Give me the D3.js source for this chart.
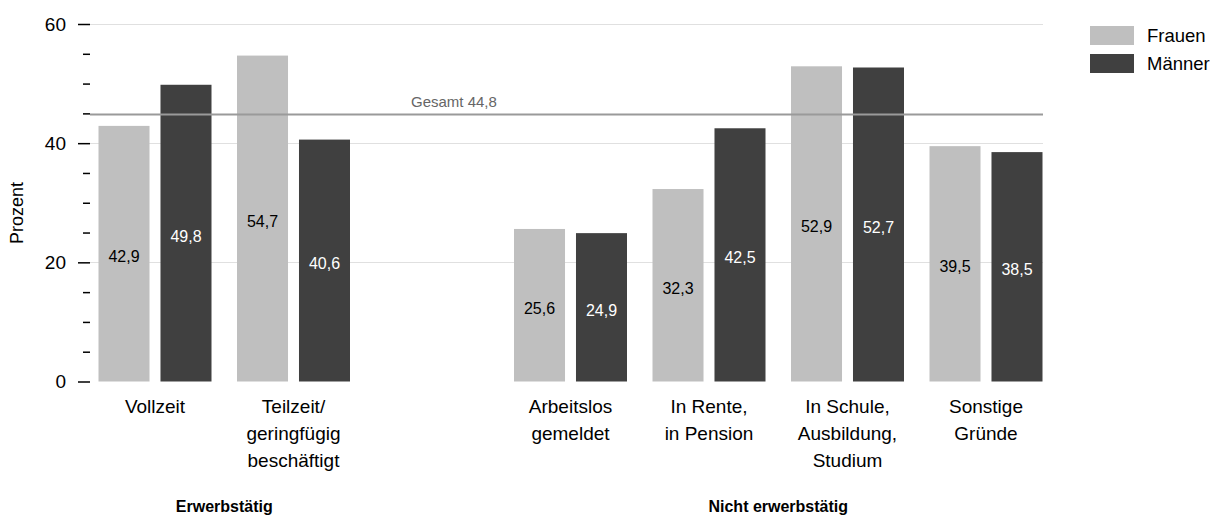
<!DOCTYPE html>
<html>
<head>
<meta charset="utf-8">
<script src="https://cdn.jsdelivr.net/npm/d3@7"></script>
<style>
  body { margin: 0; background: #fff; }
  text { font-family: "Liberation Sans", Arial, sans-serif; }
</style>
</head>
<body>
<svg width="1221" height="518"></svg>
<script>
// categories (empty slot separates the two groups)
var categories = ['Vollzeit', 'Teilzeit', '', 'Arbeitslos', 'Rente', 'Schule', 'Sonstige'];
var catLabels = {
  'Vollzeit': ['Vollzeit'],
  'Teilzeit': ['Teilzeit/', 'geringfügig', 'beschäftigt'],
  'Arbeitslos': ['Arbeitslos', 'gemeldet'],
  'Rente': ['In Rente,', 'in Pension'],
  'Schule': ['In Schule,', 'Ausbildung,', 'Studium'],
  'Sonstige': ['Sonstige', 'Gründe']
};
var series = ['Frauen', 'Männer'];
var frauen = [42.9, 54.7, null, 25.6, 32.3, 52.9, 39.5];
var maenner = [49.8, 40.6, null, 24.9, 42.5, 52.7, 38.5];
var gesamt = 44.8;
var groups = [
  { name: 'Erwerbstätig', from: 'Vollzeit', to: 'Teilzeit' },
  { name: 'Nicht erwerbstätig', from: 'Arbeitslos', to: 'Sonstige' }
];
var yTicks = [0, 20, 40, 60];

var colors = { 'Frauen': '#bfbfbf', 'Männer': '#404040' };
var fmt = function(v) { return d3.format('.1f')(v).replace('.', ','); };

var svg = d3.select('svg');

var x0 = d3.scaleBand().domain(categories).range([85.75, 1055.25]).padding(0);
var x1 = d3.scaleBand().domain(series).range([12.75, 125.75]).paddingInner(0.177);
var y = d3.scaleLinear().domain([0, 60]).range([381.5, 24]);

var plotL = 90, plotR = 1043;

// grid lines
svg.append('g').selectAll('line')
  .data(yTicks.slice(1))
  .enter().append('line')
  .attr('x1', plotL).attr('x2', plotR)
  .attr('y1', function(d) { return Math.round(y(d)) + 0.5; })
  .attr('y2', function(d) { return Math.round(y(d)) + 0.5; })
  .attr('stroke', '#e0e0e0').attr('stroke-width', 1);

// y axis: major + minor ticks
var yAxis = d3.axisLeft(y).tickValues(yTicks).tickSize(12).tickPadding(12);
var gy = svg.append('g').attr('transform', 'translate(' + plotL + ',0)').call(yAxis);
gy.select('.domain').remove();
gy.selectAll('.tick line').attr('stroke', '#000').attr('stroke-width', 1.5);
gy.selectAll('.tick text').attr('font-size', 19).attr('fill', '#000')
  .attr('font-family', '"Liberation Sans", Arial, sans-serif');
var minor = d3.axisLeft(y).tickValues(d3.range(5, 60, 5).filter(function(d) { return d % 20; }))
  .tickSize(7).tickFormat('');
var gm = svg.append('g').attr('transform', 'translate(' + plotL + ',0)').call(minor);
gm.select('.domain').remove();
gm.selectAll('.tick line').attr('stroke', '#000').attr('stroke-width', 1.5);

svg.append('text')
  .attr('transform', 'translate(23,213) rotate(-90)')
  .attr('text-anchor', 'middle')
  .attr('font-size', 18)
  .text('Prozent');

// bars
var rows = categories.map(function(c, i) {
  return { cat: c, vals: [ { s: 'Frauen', v: frauen[i] }, { s: 'Männer', v: maenner[i] } ] };
}).filter(function(d) { return d.cat !== ''; });

var cg = svg.append('g').selectAll('g')
  .data(rows).enter().append('g')
  .attr('transform', function(d) { return 'translate(' + x0(d.cat) + ',0)'; });

cg.selectAll('rect')
  .data(function(d) { return d.vals; })
  .enter().append('rect')
  .attr('x', function(d) { return x1(d.s); })
  .attr('width', x1.bandwidth())
  .attr('y', function(d) { return y(d.v); })
  .attr('height', function(d) { return y(0) - y(d.v); })
  .attr('fill', function(d) { return colors[d.s]; });

cg.selectAll('text.val')
  .data(function(d) { return d.vals; })
  .enter().append('text')
  .attr('class', 'val')
  .attr('x', function(d) { return x1(d.s) + x1.bandwidth() / 2; })
  .attr('y', function(d) { return (y(d.v) + y(0)) / 2 + 3; })
  .attr('text-anchor', 'middle')
  .attr('dominant-baseline', 'central')
  .attr('font-size', 16)
  .attr('fill', function(d) { return d.s === 'Frauen' ? '#000' : '#fff'; })
  .text(function(d) { return fmt(d.v); });

// category labels
cg.append('text')
  .attr('text-anchor', 'middle')
  .attr('font-size', 19)
  .selectAll('tspan')
  .data(function(d) { return catLabels[d.cat]; })
  .enter().append('tspan')
  .attr('x', x0.bandwidth() / 2)
  .attr('y', function(d, i) { return 413 + i * 27; })
  .text(function(d) { return d; });

// Gesamt line
svg.append('line')
  .attr('x1', plotL).attr('x2', plotR)
  .attr('y1', y(gesamt)).attr('y2', y(gesamt))
  .attr('stroke', '#9a9a9a').attr('stroke-width', 2);
svg.append('text')
  .attr('x', 411).attr('y', y(gesamt) - 8)
  .attr('font-size', 15).attr('fill', '#666')
  .text('Gesamt ' + fmt(gesamt));

// group labels
svg.append('g').selectAll('text')
  .data(groups).enter().append('text')
  .attr('x', function(d) { return (x0(d.from) + x0(d.to) + x0.bandwidth()) / 2; })
  .attr('y', 512)
  .attr('text-anchor', 'middle')
  .attr('font-size', 16)
  .attr('font-weight', 'bold')
  .text(function(d) { return d.name; });

// legend
var lg = svg.append('g').selectAll('g')
  .data(series).enter().append('g')
  .attr('transform', function(d, i) { return 'translate(1090,' + (26 + i * 28) + ')'; });
lg.append('rect').attr('width', 44).attr('height', 19)
  .attr('fill', function(d) { return colors[d]; });
lg.append('text').attr('x', 57).attr('y', 16).attr('font-size', 18.5)
  .text(function(d) { return d; });
</script>
</body>
</html>
